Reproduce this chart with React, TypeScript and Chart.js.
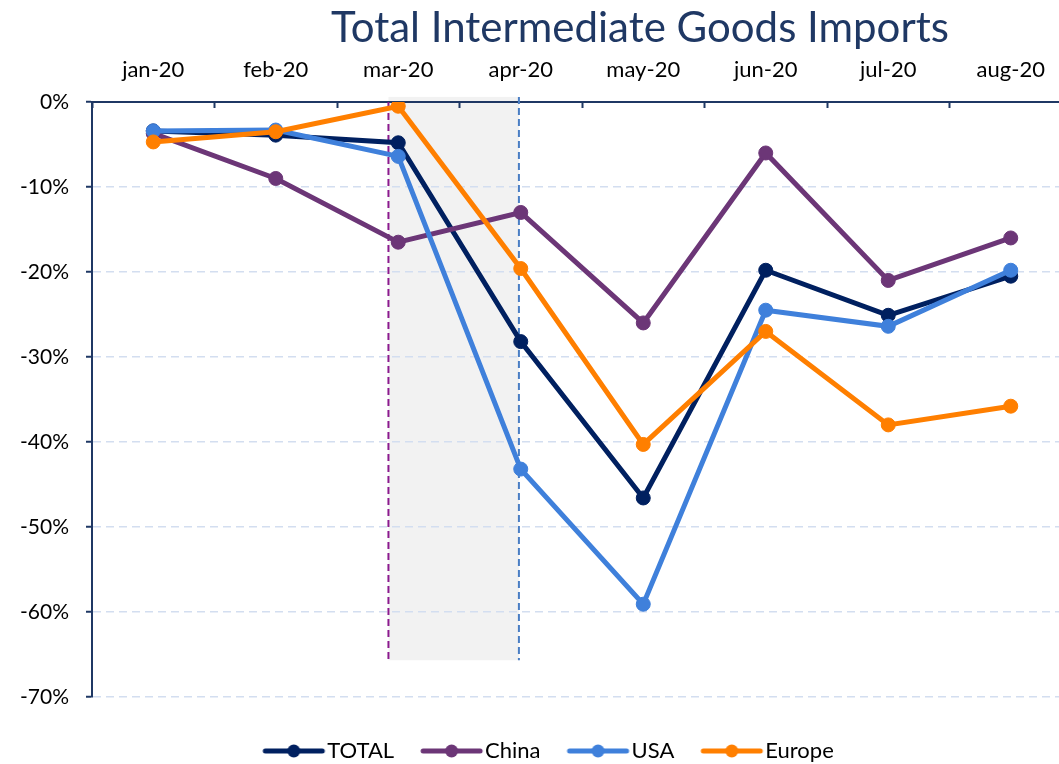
import React, { useEffect, useRef } from 'react';
import { Chart, registerables } from 'chart.js';

Chart.register(...registerables);

const TITLE = 'Total Intermediate Goods Imports';
const months = ['jan-20', 'feb-20', 'mar-20', 'apr-20', 'may-20', 'jun-20', 'jul-20', 'aug-20'];
const total = [-3.4, -3.9, -4.8, -28.2, -46.6, -19.8, -25.1, -20.5];
const china = [-3.7, -9.0, -16.5, -13.0, -26.0, -6.0, -21.0, -16.0];
const usa = [-3.4, -3.3, -6.4, -43.2, -59.1, -24.5, -26.4, -19.8];
const europe = [-4.7, -3.5, -0.5, -19.6, -40.3, -27.0, -38.0, -35.8];
const yTicks = [0, -10, -20, -30, -40, -50, -60, -70];
const seriesNames = ['TOTAL', 'China', 'USA', 'Europe'];
const seriesColors = ['#002060', '#6C3677', '#3F80DB', '#FF7F00'];
const seriesData = [total, china, usa, europe];
const drawOrder = [3, 2, 1, 0];

// shaded window (category index / percent units)
const shadeFrom = 1.92;
const shadeTo = 2.985;
const shadeTop = 0.6;
const shadeBottom = -65.7;

const FONT = 'Lato, "Open Sans", sans-serif';
const NAVY = '#1F3864';

// legend icon geometry
const LEG_PAD = 10;
const LEG_GAP = 27;
const LEG_LINE = 61;
const LEG_TEXT_GAP = 3;
const LEG_FONT = 22;
const LEG_BOX = LEG_GAP - LEG_PAD + LEG_LINE + LEG_TEXT_GAP - LEG_FONT / 2;

function makeIcon(color: string) {
  const lineStart = LEG_GAP - LEG_PAD;
  const lineEnd = lineStart + LEG_LINE;
  const center = LEG_BOX / 2;
  const half = Math.ceil(Math.max(center - lineStart, lineEnd - center)) + 4;
  const w = half * 2;
  const off = half - center;
  const c = document.createElement('canvas');
  c.width = w;
  c.height = 16;
  const ctx = c.getContext('2d')!;
  ctx.strokeStyle = color;
  ctx.lineWidth = 5;
  ctx.lineCap = 'round';
  ctx.beginPath();
  ctx.moveTo(lineStart + off + 2, 8);
  ctx.lineTo(lineEnd + off - 2, 8);
  ctx.stroke();
  ctx.fillStyle = color;
  ctx.beginPath();
  ctx.arc((lineStart + lineEnd) / 2 + off, 8, 6.5, 0, Math.PI * 2);
  ctx.fill();
  return c;
}

const shadePlugin = {
  id: 'shadeWindow',
  beforeDraw(chart: any) {
    const { ctx, scales } = chart;
    const x = scales.x, y = scales.y;
    const x1 = x.getPixelForValue(shadeFrom);
    const x2 = x.getPixelForValue(shadeTo);
    const y1 = y.getPixelForValue(shadeTop);
    const y2 = y.getPixelForValue(shadeBottom);
    ctx.save();
    ctx.fillStyle = '#F2F2F2';
    ctx.fillRect(x1, y1, x2 - x1, y2 - y1);
    ctx.restore();
  },
  beforeDatasetsDraw(chart: any) {
    const { ctx, scales } = chart;
    const x = scales.x, y = scales.y;
    const x1 = x.getPixelForValue(shadeFrom);
    const x2 = x.getPixelForValue(shadeTo);
    const y0 = y.getPixelForValue(0);
    const y1 = y.getPixelForValue(shadeTop);
    const y2 = y.getPixelForValue(shadeBottom);
    ctx.save();
    ctx.lineWidth = 2;
    ctx.setLineDash([7, 4]);
    ctx.strokeStyle = '#8B1A8E';
    ctx.beginPath();
    ctx.moveTo(x1, y0);
    ctx.lineTo(x1, y2);
    ctx.stroke();
    ctx.strokeStyle = '#4A7EC4';
    ctx.beginPath();
    ctx.moveTo(x2, y1);
    ctx.lineTo(x2, y2);
    ctx.stroke();
    ctx.restore();
  },
  afterDraw(chart: any) {
    const { ctx } = chart;
    ctx.save();
    ctx.font = `42px ${FONT}`;
    ctx.fillStyle = NAVY;
    ctx.textAlign = 'center';
    ctx.textBaseline = 'alphabetic';
    ctx.fillText(TITLE, 640, 42);
    ctx.restore();
  },
};

export default function App() {
  const ref = useRef<HTMLCanvasElement>(null);
  useEffect(() => {
    if (!ref.current) return;
    const icons = seriesColors.map(makeIcon);
    const chart = new Chart(ref.current, {
      type: 'line',
      data: {
        labels: months,
        datasets: seriesNames.map((name, i) => ({
          label: name,
          data: seriesData[i],
          borderColor: seriesColors[i],
          backgroundColor: seriesColors[i],
          pointBackgroundColor: seriesColors[i],
          pointBorderColor: seriesColors[i],
          borderWidth: 5,
          pointRadius: 7,
          pointBorderWidth: 1,
          tension: 0,
          order: drawOrder[i],
        })),
      },
      options: {
        animation: false,
        responsive: false,
        devicePixelRatio: 1,
        layout: { padding: 0 },
        scales: {
          x: {
            position: 'top',
            offset: true,
            grid: {
              offset: true,
              drawOnChartArea: false,
              drawTicks: true,
              tickLength: -6,
              tickColor: NAVY,
              tickWidth: 2,
            },
            border: { color: NAVY, width: 2 },
            ticks: { color: '#000', font: { family: FONT, size: 22 }, padding: 25, maxRotation: 0 },
            afterFit: (s: any) => { s.height = 102; },
          },
          y: {
            min: -70,
            max: 0,
            afterBuildTicks: (s: any) => { s.ticks = yTicks.map((v) => ({ value: v })); },
            grid: {
              color: '#D3DEF0',
              lineWidth: 1.5,
              tickColor: NAVY,
              tickLength: 6,
              tickWidth: 2,
              tickBorderDash: [],
            },
            border: { color: NAVY, width: 2, dash: [8, 5] },
            ticks: {
              color: '#000',
              font: { family: FONT, size: 21 },
              padding: 17,
              callback: (v: any) => `${v}%`,
            },
            afterFit: (s: any) => { s.width = 92; },
          },
        },
        plugins: {
          legend: {
            position: 'bottom',
            title: { display: true, text: ' ', font: { size: 1 }, padding: { top: 32, bottom: 0 } },
            labels: {
              usePointStyle: true,
              pointStyleWidth: LEG_BOX,
              padding: LEG_PAD,
              color: '#000',
              font: { family: FONT, size: LEG_FONT },
              sort: (a: any, b: any) => a.datasetIndex - b.datasetIndex,
              generateLabels: (ch: any) => {
                const base = (Chart as any).defaults.plugins.legend.labels.generateLabels(ch);
                return base.map((it: any) => ({ ...it, pointStyle: icons[it.datasetIndex], lineWidth: 0 }));
              },
            },
          },
          tooltip: { enabled: false },
        },
      },
      plugins: [shadePlugin],
    } as any);
    return () => chart.destroy();
  }, []);
  return (
    <div style={{ position: 'absolute', left: 0, top: 0, width: 1059, height: 764, overflow: 'hidden', background: '#fff' }}>
      <canvas ref={ref} width={1080} height={772} style={{ display: 'block' }} />
    </div>
  );
}
